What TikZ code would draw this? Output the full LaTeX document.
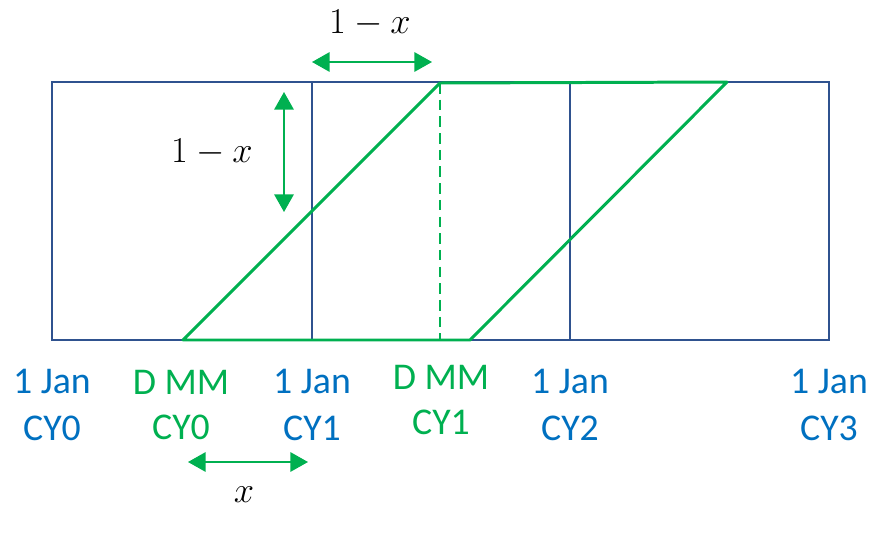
\documentclass[tikz,border=0pt]{standalone}
\usepackage{fontspec}
\setmainfont{Carlito}
\usepackage{xcolor}
\usetikzlibrary{positioning,arrows.meta}
\definecolor{boxblue}{HTML}{2F528F}
\definecolor{textblue}{HTML}{0070C0}
\definecolor{cygreen}{HTML}{00B050}

\begin{document}
\begin{tikzpicture}[
  x=0.02cm, y=-0.02cm,
  grid/.style={draw=boxblue, line width=1.4pt},
  band/.style={draw=cygreen, line width=1.7pt, line join=round},
  arr/.style={{Triangle[length=10pt, width=11pt]}-{Triangle[length=10pt, width=11pt]}, draw=cygreen, fill=cygreen, line width=1.1pt},
  jan/.style={text=textblue, align=center, font=\fontsize{21.5}{27}\selectfont},
  dmm/.style={text=cygreen, align=center, font=\fontsize{21.5}{26}\selectfont},
  len/.style={inner sep=0pt, font=\fontsize{21}{25}\selectfont}
]
\useasboundingbox (0,0) rectangle (893,534);
% calendar years
\coordinate (c0b) at (52,340);  \coordinate (c0t) at (52,82);
\coordinate (c1b) at (312,340); \coordinate (c1t) at (312,82);
\coordinate (c2b) at (570,340); \coordinate (c2t) at (570,82);
\coordinate (c3b) at (829,340); \coordinate (c3t) at (829,82);
\draw[grid] (c0b) rectangle (c3t);
\draw[grid] (c1b) -- (c1t);
\draw[grid] (c2b) -- (c2t);
% cohort band
\coordinate (p0) at (183,340);
\coordinate (p1) at (440,83);
\coordinate (p2) at (727,82);
\coordinate (p3) at (470,340);
\coordinate (d1) at (440,340);
\draw[band] (p0) -- (p1) -- (p2) -- (p3) -- cycle;
\draw[band, dash pattern=on 6pt off 3.5pt] (p1) -- (d1);
% lengths
\coordinate (ha) at (312,62); \coordinate (hb) at (432,62);
\coordinate (va) at (284,92); \coordinate (vb) at (284,212);
\coordinate (xa) at (188,462); \coordinate (xb) at (308,462);
\draw[arr] (ha) -- (hb);
\draw[arr] (va) -- (vb);
\draw[arr] (xa) -- (xb);
\node[len] (lh) at (370,23) {$1-x$};
\node[len] (lv) at (212,152) {$1-x$};
\node[len] (lx) at (244,495) {$x$};
% dates
\node[jan] (j0) at (52,405) {1 Jan\\CY0};
\node[dmm] (m0) at (181,405) {D MM\\CY0};
\node[jan] (j1) at (312,405) {1 Jan\\CY1};
\node[dmm] (m1) at (441,400) {D MM\\CY1};
\node[jan] (j2) at (570,405) {1 Jan\\CY2};
\node[jan] (j3) at (829,405) {1 Jan\\CY3};
\end{tikzpicture}
\end{document}
